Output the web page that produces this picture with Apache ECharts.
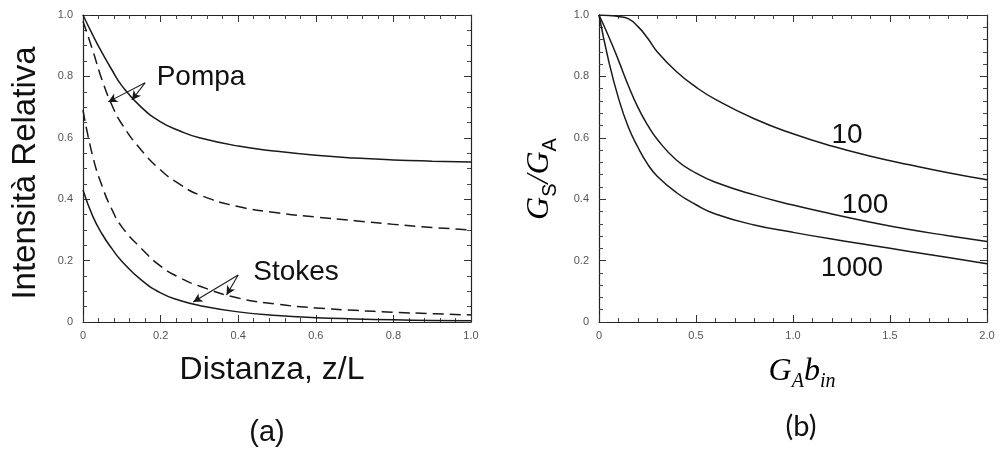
<!DOCTYPE html>
<html>
<head>
<meta charset="utf-8">
<script src="https://cdn.jsdelivr.net/npm/echarts@6/dist/echarts.min.js"></script>
<style>html,body{margin:0;padding:0;background:#fff}#c{width:1000px;height:452px}</style>
</head>
<body>
<div id="c"></div>
<script>
// ---- Panel (a) data ----
const xA = [0, 0.025, 0.05, 0.075, 0.1, 0.15, 0.2, 0.25, 0.3, 0.4, 0.5, 0.6, 0.7, 0.8, 0.9, 1.0];
const pumpSolid = [1.0, 0.935, 0.875, 0.82, 0.77, 0.70, 0.652, 0.622, 0.6, 0.573, 0.556, 0.543, 0.534, 0.528, 0.524, 0.521];
const pumpDashed = [0.98, 0.885, 0.785, 0.705, 0.645, 0.56, 0.495, 0.448, 0.414, 0.376, 0.356, 0.342, 0.33, 0.318, 0.308, 0.30];
const stokesSolid = [0.43, 0.345, 0.285, 0.238, 0.198, 0.137, 0.095, 0.07, 0.054, 0.033, 0.021, 0.014, 0.01, 0.007, 0.005, 0.004];
const stokesDashed = [0.69, 0.54, 0.44, 0.365, 0.31, 0.24, 0.182, 0.144, 0.117, 0.078, 0.058, 0.046, 0.038, 0.032, 0.027, 0.023];
// annotation arrows (data coords): [base, tip]
const pompaArrows = [[[0.16, 0.779], [0.065, 0.717]], [[0.16, 0.779], [0.126, 0.723]]];
const stokesArrows = [[[0.40, 0.153], [0.284, 0.065]], [[0.40, 0.153], [0.37, 0.088]]];

// ---- Panel (b) data ----
const xB = [0, 0.05, 0.1, 0.15, 0.2, 0.25, 0.3, 0.4, 0.5, 0.6, 0.8, 1.0, 1.2, 1.4, 1.6, 1.8, 2.0];
const g10 = [1.0, 0.998, 0.995, 0.988, 0.963, 0.925, 0.88, 0.815, 0.765, 0.725, 0.662, 0.613, 0.573, 0.54, 0.512, 0.486, 0.463];
const g100 = [1.0, 0.93, 0.853, 0.772, 0.70, 0.642, 0.595, 0.527, 0.485, 0.455, 0.414, 0.381, 0.352, 0.325, 0.301, 0.281, 0.262];
const g1000 = [1.0, 0.85, 0.73, 0.637, 0.57, 0.515, 0.475, 0.421, 0.382, 0.352, 0.316, 0.292, 0.27, 0.25, 0.23, 0.21, 0.19];
const curveLabels = ['10', '100', '1000'];

const FONT = "'Liberation Sans', Arial, sans-serif";
const SERIF = "'Liberation Serif', 'DejaVu Serif', serif";
const pair = (xs, ys) => xs.map((x, i) => [x, ys[i]]);

function axisCommon(extra) {
  return Object.assign({
    type: 'value',
    axisLine: { show: true, onZero: false, lineStyle: { color: '#222', width: 1.2 } },
    axisTick: { show: true, inside: true, length: 7, lineStyle: { color: '#333', width: 1 } },
    minorTick: { show: true, splitNumber: 5, length: 4, lineStyle: { color: '#444', width: 1 } },
    splitLine: { show: false },
    minorSplitLine: { show: false },
    axisLabel: { show: true, color: '#555', fontSize: 11, fontFamily: FONT }
  }, extra);
}
const fmt1 = v => (v === 0 ? '0' : v.toFixed(1));

const solid = { color: '#1a1a1a', width: 1.5, type: 'solid' };
const dashed = { color: '#1a1a1a', width: 1.5, type: [11, 6] };

function lineSeries(xi, yi, data, ls) {
  return { type: 'line', xAxisIndex: xi, yAxisIndex: yi, data: data, showSymbol: false, symbol: 'none',
           smooth: 0.5, lineStyle: ls, silent: true, animation: false, z: 3 };
}
function arrowMark(arrows) {
  return {
    silent: true, symbol: ['none', 'arrow'], symbolSize: [7, 9], animation: false,
    lineStyle: { color: '#1a1a1a', width: 1.1, type: 'solid' }, label: { show: false },
    data: arrows.map(a => [{ coord: a[0] }, { coord: a[1] }])
  };
}

const s1 = lineSeries(0, 0, pair(xA, pumpSolid), solid);
s1.markLine = arrowMark(pompaArrows);
const s4 = lineSeries(0, 0, pair(xA, stokesDashed), dashed);
s4.markLine = arrowMark(stokesArrows);

const option = {
  animation: false,
  backgroundColor: '#fff',
  grid: [
    { left: 83, top: 15, width: 388, height: 307 },
    { left: 599, top: 15, width: 388, height: 307 }
  ],
  xAxis: [
    axisCommon({ gridIndex: 0, min: 0, max: 1, interval: 0.2, position: 'bottom',
      axisLabel: { color: '#555', fontSize: 11, fontFamily: FONT, margin: 8, formatter: fmt1 } }),
    axisCommon({ gridIndex: 0, min: 0, max: 1, interval: 0.2, position: 'top', axisLabel: { show: false } }),
    axisCommon({ gridIndex: 1, min: 0, max: 2, interval: 0.5, position: 'bottom',
      axisLabel: { color: '#555', fontSize: 11, fontFamily: FONT, margin: 8, formatter: fmt1 } }),
    axisCommon({ gridIndex: 1, min: 0, max: 2, interval: 0.5, position: 'top', axisLabel: { show: false } })
  ],
  yAxis: [
    axisCommon({ gridIndex: 0, min: 0, max: 1, interval: 0.2, position: 'left',
      minorTick: { show: true, splitNumber: 4, length: 4, lineStyle: { color: '#444' } },
      axisLabel: { color: '#555', fontSize: 11, fontFamily: FONT, margin: 10, formatter: fmt1 } }),
    axisCommon({ gridIndex: 0, min: 0, max: 1, interval: 0.2, position: 'right',
      minorTick: { show: true, splitNumber: 4, length: 4, lineStyle: { color: '#444' } },
      axisLabel: { show: false } }),
    axisCommon({ gridIndex: 1, min: 0, max: 1, interval: 0.2, position: 'left',
      axisLabel: { color: '#555', fontSize: 11, fontFamily: FONT, margin: 10, formatter: fmt1 } }),
    axisCommon({ gridIndex: 1, min: 0, max: 1, interval: 0.2, position: 'right', axisLabel: { show: false } })
  ],
  series: [
    s1,
    lineSeries(0, 0, pair(xA, pumpDashed), dashed),
    lineSeries(0, 0, pair(xA, stokesSolid), solid),
    s4,
    lineSeries(2, 2, pair(xB, g10), solid),
    lineSeries(2, 2, pair(xB, g100), solid),
    lineSeries(2, 2, pair(xB, g1000), solid)
  ],
  graphic: [
    { type: 'text', x: 26, y: 173, rotation: Math.PI / 2,
      style: { text: 'Intensità Relativa', font: "33px " + FONT, fill: '#111', align: 'center', verticalAlign: 'middle' } },
    { type: 'text', x: 272, y: 370,
      style: { text: 'Distanza, z/L', font: "32px " + FONT, fill: '#111', align: 'center', verticalAlign: 'middle' } },
    { type: 'text', x: 267, y: 433,
      style: { text: '(a)', font: "29px " + FONT, fill: '#111', align: 'center', verticalAlign: 'middle' } },
    { type: 'text', x: 201, y: 77,
      style: { text: 'Pompa', font: "28px " + FONT, fill: '#111', align: 'center', verticalAlign: 'middle' } },
    { type: 'text', x: 296, y: 272,
      style: { text: 'Stokes', font: "28px " + FONT, fill: '#111', align: 'center', verticalAlign: 'middle' } },
    { type: 'text', x: 847, y: 135,
      style: { text: curveLabels[0], font: "28px " + FONT, fill: '#111', align: 'center', verticalAlign: 'middle' } },
    { type: 'text', x: 865, y: 205,
      style: { text: curveLabels[1], font: "28px " + FONT, fill: '#111', align: 'center', verticalAlign: 'middle' } },
    { type: 'text', x: 852, y: 268,
      style: { text: curveLabels[2], font: "28px " + FONT, fill: '#111', align: 'center', verticalAlign: 'middle' } },
    { type: 'text', x: 802, y: 372,
      style: { text: '{i|G}{s|A}{i|b}{s|in}', align: 'center', verticalAlign: 'middle',
        rich: {
          i: { fontFamily: SERIF, fontStyle: 'italic', fontSize: 32, lineHeight: 40, color: '#111' },
          s: { fontFamily: SERIF, fontStyle: 'italic', fontSize: 20, lineHeight: 20, verticalAlign: 'bottom', color: '#111' }
        } } },
    { type: 'text', x: 801, y: 427,
      style: { text: '(b)', font: "29px Lato, 'Open Sans', sans-serif", fill: '#111', align: 'center', verticalAlign: 'middle' } },
    { type: 'text', x: 540, y: 179, rotation: Math.PI / 2,
      style: { text: '{i|G}{s|S}{i|/G}{s|A}', align: 'center', verticalAlign: 'middle',
        rich: {
          i: { fontFamily: SERIF, fontStyle: 'italic', fontSize: 32, lineHeight: 40, color: '#111' },
          s: { fontFamily: FONT, fontSize: 20, lineHeight: 20, verticalAlign: 'bottom', color: '#111' }
        } } }
  ]
};

const chart = echarts.init(document.getElementById('c'), null, { renderer: 'canvas' });
chart.setOption(option);
</script>
</body>
</html>
